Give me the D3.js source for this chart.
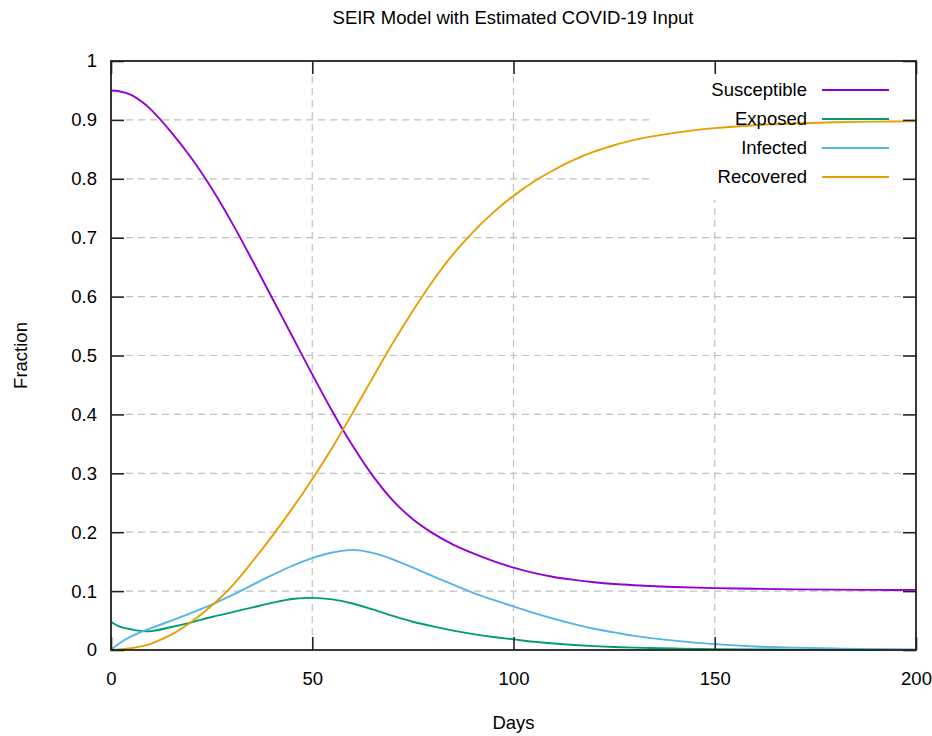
<!DOCTYPE html>
<html><head><meta charset="utf-8">
<script src="https://cdn.jsdelivr.net/npm/d3@7"></script>
<style>
html,body{margin:0;padding:0;background:#fff;}
text{font-family:"Liberation Sans",Arial,Helvetica,sans-serif;fill:#000;}
</style></head>
<body>
<svg id="chart" width="932" height="736"></svg>
<script>
const title = "SEIR Model with Estimated COVID-19 Input";
const xLabel = "Days";
const yLabel = "Fraction";
const seriesNames = ["Susceptible","Exposed","Infected","Recovered"];
const seriesColors = ["#9400d3","#009e73","#56b4e9","#e69f00"];
const xTicks = [0,50,100,150,200];
const yTicks = [0,0.1,0.2,0.3,0.4,0.5,0.6,0.7,0.8,0.9,1];

const days = [0,2,5,8,10,15,20,25,30,35,40,45,50,55,60,65,70,75,80,85,90,95,100,105,110,115,120,125,130,140,150,160,170,180,190,200];
const susceptible = [0.950,0.9487,0.9425,0.929,0.917,0.879,0.835,0.784,0.726,0.663,0.598,0.533,0.468,0.405,0.347,0.296,0.254,0.222,0.198,0.179,0.164,0.151,0.140,0.131,0.124,0.119,0.115,0.112,0.110,0.107,0.105,0.104,0.103,0.1025,0.102,0.102];
const exposed = [0.048,0.040,0.035,0.032,0.032,0.039,0.047,0.056,0.064,0.072,0.080,0.0865,0.0885,0.086,0.079,0.069,0.058,0.048,0.040,0.033,0.027,0.022,0.018,0.014,0.011,0.0085,0.0065,0.005,0.004,0.0025,0.0015,0.001,0.0007,0.0005,0.0003,0.0002];
const infected = [0.000,0.011,0.023,0.032,0.037,0.050,0.063,0.077,0.093,0.110,0.127,0.143,0.156,0.1655,0.170,0.165,0.154,0.140,0.125,0.111,0.097,0.085,0.074,0.063,0.053,0.044,0.036,0.030,0.024,0.016,0.010,0.006,0.004,0.0025,0.0015,0.001];
const recovered = [0.000,0.001,0.003,0.007,0.011,0.026,0.048,0.075,0.108,0.149,0.193,0.240,0.290,0.344,0.402,0.462,0.521,0.576,0.627,0.672,0.710,0.743,0.771,0.795,0.815,0.832,0.846,0.857,0.866,0.878,0.886,0.891,0.894,0.896,0.897,0.898];
const seriesValues = [susceptible, exposed, infected, recovered];

const svg = d3.select("#chart");
const L = 111, R = 916, T = 61, B = 650;
const x = d3.scaleLinear().domain([0,200]).range([L,R]);
const y = d3.scaleLinear().domain([0,1]).range([B,T]);
const fs = "18.5px";
const tickLen = 13;

// grid
const grid = svg.append("g").attr("stroke","#c0c0c0").attr("stroke-width",1.2).attr("stroke-dasharray","7,5");
xTicks.filter(d=>d>0 && d<200).forEach(d=>{
  grid.append("line").attr("x1",x(d)).attr("x2",x(d)).attr("y1",y(1)+tickLen+2).attr("y2",y(0)-tickLen-2);
});
yTicks.filter(d=>d>0 && d<1).forEach(d=>{
  grid.append("line").attr("y1",y(d)).attr("y2",y(d)).attr("x1",x(0)+tickLen+2).attr("x2",x(200)-tickLen-2);
});

// key background (blanks the grid behind the key)
svg.append("rect").attr("x",654).attr("y",75).attr("width",R-654-1).attr("height",125).attr("fill","#fff");

// curves
const line = d3.line().curve(d3.curveCatmullRom.alpha(0.5));
seriesValues.forEach((vals,i)=>{
  svg.append("path")
    .attr("d", line(days.map((d,j)=>[x(d), y(vals[j])])))
    .attr("fill","none").attr("stroke",seriesColors[i]).attr("stroke-width",1.9);
});

// axes (gnuplot style: border + inward mirrored ticks)
const axB = d3.axisBottom(x).tickValues(xTicks).tickSizeInner(-tickLen).tickSizeOuter(0).tickPadding(22).tickFormat(d3.format("d"));
const axT = d3.axisTop(x).tickValues(xTicks).tickSizeInner(-tickLen).tickSizeOuter(0).tickFormat("");
const axL = d3.axisLeft(y).tickValues(yTicks).tickSizeInner(-tickLen).tickSizeOuter(0).tickPadding(14).tickFormat(d=>d3.format("")(+d.toFixed(1)));
const axR = d3.axisRight(y).tickValues(yTicks).tickSizeInner(-tickLen).tickSizeOuter(0).tickFormat("");
function style(g){
  g.select(".domain").remove();
  g.selectAll(".tick line").attr("stroke","#222").attr("stroke-width",1.6);
  g.selectAll("text").attr("font-size",fs).attr("font-family","Liberation Sans, Arial, sans-serif").attr("fill","#000");
}
svg.append("g").attr("transform",`translate(0,${B})`).call(axB).call(style);
svg.append("g").attr("transform",`translate(0,${T})`).call(axT).call(style);
svg.append("g").attr("transform",`translate(${L},0)`).call(axL).call(style);
svg.append("g").attr("transform",`translate(${R},0)`).call(axR).call(style);

svg.append("rect").attr("x",L).attr("y",T).attr("width",R-L).attr("height",B-T)
  .attr("fill","none").attr("stroke","#222").attr("stroke-width",1.8);

// key
seriesNames.forEach((n,i)=>{
  const yy = 90 + i*29;
  svg.append("text").attr("x",807).attr("y",yy).attr("dy","0.35em").attr("text-anchor","end").attr("font-size",fs).text(n);
  svg.append("line").attr("x1",822).attr("x2",889).attr("y1",yy).attr("y2",yy).attr("stroke",seriesColors[i]).attr("stroke-width",1.9);
});

// titles
svg.append("text").attr("x",(L+R)/2 - 0.5).attr("y",24).attr("text-anchor","middle").attr("font-size",fs).text(title);
svg.append("text").attr("x",(L+R)/2).attr("y",729).attr("text-anchor","middle").attr("font-size",fs).text(xLabel);
svg.append("text").attr("transform",`translate(27,${(T+B)/2}) rotate(-90)`).attr("text-anchor","middle").attr("font-size",fs).text(yLabel);
</script>
</body></html>
